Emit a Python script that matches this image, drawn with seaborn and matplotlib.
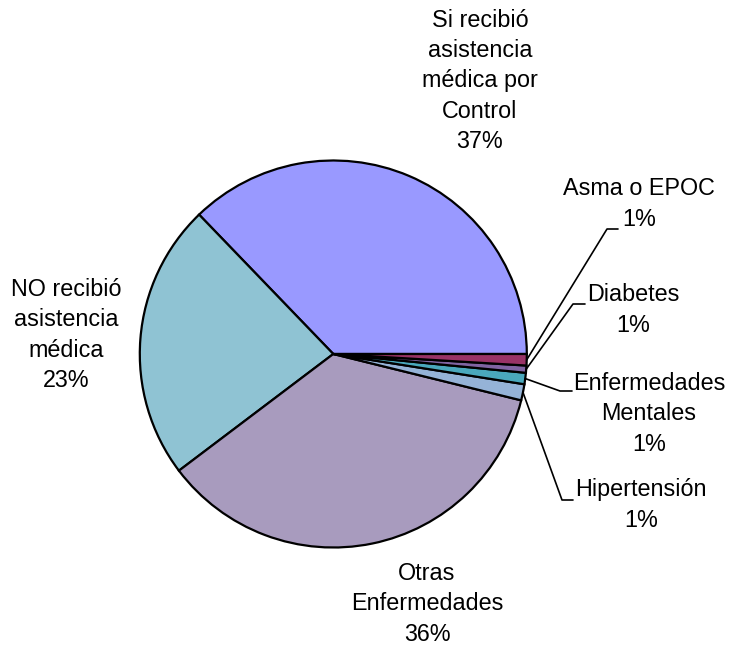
import numpy as np
import matplotlib
matplotlib.use("Agg")
import matplotlib.pyplot as plt
import seaborn as sns

# datos (porcentajes)
categorias = ["Si recibió\nasistencia\nmédica por\nControl",
              "NO recibió\nasistencia\nmédica",
              "Otras\nEnfermedades",
              "Hipertensión",
              "Enfermedades\nMentales",
              "Diabetes",
              "Asma o EPOC"]
valores = [37.2, 23.1, 35.85, 1.35, 0.95, 0.6, 0.95]
colores = ["#9999FF", "#8FC3D3", "#A89BBE", "#95B3D7", "#4AA8BC", "#8064A2", "#993366"]

sns.set_theme(style="white")
plt.rcParams["font.family"] = ["Liberation Sans", "DejaVu Sans"]
plt.rcParams["text.color"] = "black"

# escala en pixeles: centro del pie y radio
cx, cy, R = 333.3, 354.0, 193.5
W, H = 738, 652


def px(x, y):
    return (x - cx) / R, (cy - y) / R


fig = plt.figure(figsize=(7.38, 6.52), dpi=100)
ax = fig.add_axes([0, 0, 1, 1])
wedges, _ = ax.pie(valores, colors=colores, startangle=0, counterclock=True,
                   wedgeprops=dict(edgecolor="black", linewidth=1.6))
ax.set_xlim(-cx / R, (W - cx) / R)
ax.set_ylim((cy - H) / R, cy / R)
ax.set_aspect("equal")
ax.axis("off")

etiquetas = [f"{c}\n{v:.0f}%" for c, v in zip(categorias, valores)]
fs = 16.8
ls = 1.4

# etiquetas de las porciones grandes (sin linea guia)
pos_grandes = [(480, 81), (66, 335), (427, 604)]
for i, (x, y) in enumerate(pos_grandes):
    ax.text(*px(x, y), etiquetas[i], ha="center", va="center",
            fontsize=fs, linespacing=ls, color="black")

# porciones chicas con linea guia: (codo, fin de linea, texto)
guias = {3: ((562, 500), (573, 500), (641, 505)),
         4: ((560, 391), (572, 391), (649, 414)),
         5: ((573, 304), (585, 304), (633, 310)),
         6: ((607, 229), (618, 229), (639, 204))}
for i, (codo, fin, txt) in guias.items():
    w = wedges[i]
    ang = np.deg2rad((w.theta1 + w.theta2) / 2)
    x0, y0 = np.cos(ang), np.sin(ang)
    xs = [x0, px(*codo)[0], px(*fin)[0]]
    ys = [y0, px(*codo)[1], px(*fin)[1]]
    ax.plot(xs, ys, color="black", linewidth=1.2)
    ax.text(*px(*txt), etiquetas[i], ha="center", va="center",
            fontsize=fs, linespacing=ls, color="black")

plt.savefig("out.png", dpi=100)
